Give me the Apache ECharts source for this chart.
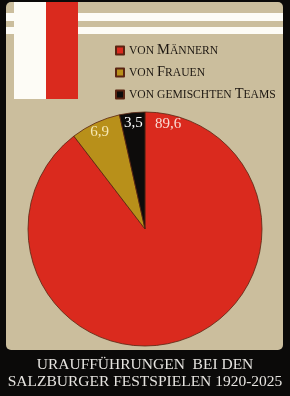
<!DOCTYPE html>
<html>
<head>
<meta charset="utf-8">
<script src="https://cdn.jsdelivr.net/npm/echarts@6/dist/echarts.min.js"></script>
<style>
html,body{margin:0;padding:0;background:#0b0a09;}
#main{width:290px;height:396px;}
</style>
</head>
<body>
<div id="main"></div>
<script>
// ---- data ----
const categories = ['von Männern', 'von Frauen', 'von gemischten Teams'];
const values = [89.6, 6.9, 3.5];
const sliceColors = ['#da2a1e', '#b8901a', '#0d0c0b'];
const labelColors = ['#fadcd4', '#f6e8b4', '#ffffff'];
const titleLines = ['Uraufführungen  bei den', 'Salzburger Festspielen 1920-2025'];

// ---- helpers ----
function smallCaps(str) {
  let out = '', run = '', kind = null;
  for (const ch of str) {
    const isUpper = ch !== ch.toLowerCase() && ch === ch.toUpperCase();
    const k = isUpper ? 'b' : 's';
    if (kind !== null && k !== kind) { out += '{' + kind + '|' + run + '}'; run = ''; }
    kind = k; run += ch.toUpperCase();
  }
  if (run) out += '{' + kind + '|' + run + '}';
  return out;
}

const chart = echarts.init(document.getElementById('main'), null, {renderer: 'canvas'});
const CX = 145, CY = 229, R = 117, LABEL_R = 107;
const total = values.reduce((a, b) => a + b, 0);

function labelAngle(i) {
  let before = 0;
  for (let k = 0; k < i; k++) before += values[k];
  const start = 90 - before / total * 360;
  if (i === 0) return start - 12.5;
  return start - values[i] / total * 180;
}

const serif = '"Liberation Serif", "DejaVu Serif", serif';

const option = {
  backgroundColor: '#0b0a09',
  animation: false,
  graphic: [
    { type: 'rect', shape: {x: 6, y: 2, width: 277, height: 348, r: 5}, style: {fill: '#cbbe9d'}, z: 0 },
    { type: 'rect', shape: {x: 6, y: 13, width: 277, height: 8}, style: {fill: '#fdfcf6'}, z: 1 },
    { type: 'rect', shape: {x: 6, y: 27, width: 277, height: 7}, style: {fill: '#fdfcf6'}, z: 1 },
    { type: 'rect', shape: {x: 14, y: 2, width: 32, height: 97}, style: {fill: '#fdfcf6'}, z: 2 },
    { type: 'rect', shape: {x: 46, y: 2, width: 32, height: 97}, style: {fill: '#da2a1e'}, z: 2 },
    {
      type: 'text', x: 145, y: 357, z: 5,
      style: {
        text: titleLines.map(s => s.toUpperCase()).join('\n'),
        align: 'center',
        verticalAlign: 'top',
        fill: '#e6e4e0',
        font: '15.5px ' + serif,
        lineHeight: 16.5
      }
    }
  ],
  legend: {
    orient: 'vertical',
    left: 110,
    top: 38,
    itemWidth: 8,
    itemHeight: 8,
    itemGap: 7,
    icon: 'rect',
    data: categories,
    formatter: name => smallCaps(name),
    textStyle: {
      color: '#1e1812',
      fontFamily: serif,
      rich: {
        b: {fontSize: 14.5, fontFamily: serif, color: '#1e1812', lineHeight: 14},
        s: {fontSize: 11.6, fontFamily: serif, color: '#1e1812', lineHeight: 14}
      }
    }
  },
  series: [{
    type: 'pie',
    center: [CX, CY],
    radius: R,
    startAngle: 90,
    clockwise: true,
    silent: true,
    itemStyle: {borderColor: '#5a2412', borderWidth: 0.8},
    label: {
      show: true,
      position: 'inside',
      fontFamily: serif,
      fontSize: 15,
      formatter: p => String(p.value).replace('.', ',')
    },
    labelLine: {show: false},
    labelLayout: function (p) {
      const a = labelAngle(p.dataIndex) * Math.PI / 180;
      return {
        x: CX + LABEL_R * Math.cos(a),
        y: CY - LABEL_R * Math.sin(a),
        align: 'center',
        verticalAlign: 'middle'
      };
    },
    data: categories.map((c, i) => ({
      name: c,
      value: values[i],
      itemStyle: {color: sliceColors[i]},
      label: {color: labelColors[i]}
    }))
  }]
};
chart.setOption(option);
</script>
</body>
</html>
